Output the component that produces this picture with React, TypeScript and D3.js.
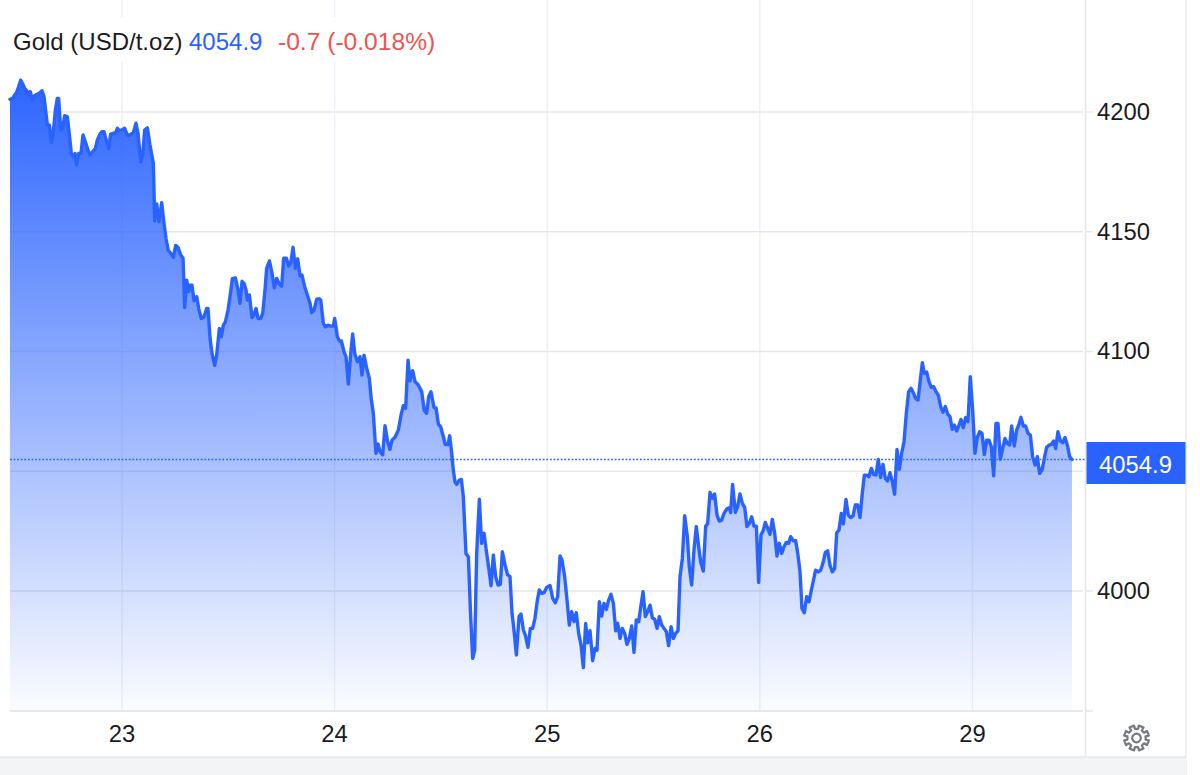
import React from "react";
import * as d3 from "d3";

const tickHours = [0, 24, 48, 72, 96];
const tickDays = ["23", "24", "25", "26", "29"];
const priceTicks = [4000, 4050, 4100, 4150, 4200];
const priceLabelTicks = [4000, 4100, 4150, 4200];
const lastPrice = 4054.9;

const hours1 = [-12.65,-12.34,-12.11,-11.89,-11.66,-11.44,-11.21,-10.99,-10.76,-10.57,-10.35,-10.12,-9.89,-9.63,-9.33,-9.03,-8.8,-8.58,-8.43,-8.2,-7.97,-7.75,-7.52,-7.3,-7.15,-6.92,-6.7,-6.47,-6.17,-5.94,-5.72,-5.49,-5.3,-5.12,-4.89,-4.63,-4.4,-4.14,-3.84,-3.61,-3.31,-3.01,-2.78,-2.48,-2.26,-2.03,-1.73,-1.5,-1.28,-0.98,-0.75,-0.52,-0.3,0,0.3,0.6,0.91,1.28,1.58,1.81,2.11,2.34,2.56,2.86,3.16,3.54,3.69,3.92,4.18,4.48,4.74,4.97,5.2,5.5,5.8,6.06,6.32,6.63,6.89,7.08,7.3,7.53,7.68,7.9,8.13,8.43,8.69,8.96,9.26,9.56,9.71,9.94,10.16,10.46,10.69,10.99,11.22,11.44,11.67,11.97,12.19,12.46,12.8,13.1,13.32,13.55,13.78,14,14.15,14.38,14.68,14.9,15.13,15.36,15.66,15.88,16.11,16.33,16.64,16.94,17.2,17.46,17.76,18.03,18.25,18.55,18.82,19.04,19.31,19.57,19.83,20.1,20.32,20.62,20.92,21.23,21.41,21.68,21.98,22.28,22.43,22.73,22.96,23.26,23.56,23.86,24.01,24.31,24.54,24.76,25.06,25.29,25.55,25.82,26.04,26.27,26.57,26.87];
const prices1 = [4205.3,4205.7,4207.1,4208.2,4210.6,4213.3,4211.7,4209.9,4208.9,4207.1,4208.5,4205,4206.7,4207.4,4207.8,4208.9,4206.4,4199.4,4194.6,4194.6,4187.3,4191.8,4200.8,4205.7,4205.7,4192.5,4193.2,4198.5,4198,4190.4,4182.7,4181.3,4182.7,4177.9,4182.7,4182.7,4190.4,4187.6,4184.1,4182,4183.4,4184.8,4188.3,4190.8,4191.8,4191.8,4187.6,4184.8,4190.8,4191.1,4191.1,4193.2,4192.2,4192.5,4193.2,4190.4,4190.4,4191.4,4195.3,4191.1,4179.2,4182,4192.5,4193.4,4186.2,4178.5,4154.6,4161.6,4154.2,4162.1,4153.5,4147.2,4142.4,4141,4139.3,4144.3,4143.5,4140.3,4138.9,4118.3,4129.8,4125,4127.7,4127.7,4121.2,4122.9,4117.3,4113.8,4114.5,4118,4118,4105.5,4099.2,4094.2,4098.5,4109.6,4106.2,4111,4112.4,4117.3,4122.9,4130.4,4130.7,4125.7,4120.1,4129.3,4128.4,4125.7,4121.5,4123.6,4114.2,4115.2,4118,4113.8,4113.8,4115.9,4124.3,4134.7,4137.8,4132.6,4126.6,4130.5,4128.2,4127.3,4139,4139,4135.7,4136.8,4143.5,4134.7,4138.7,4131.5,4131.9,4127,4123.6,4120.1,4116.2,4117.3,4121.8,4122,4121.5,4111.7,4110.3,4111,4110.6,4110.6,4113.8,4106.2,4104.4,4104.4,4099.9,4097.8,4086.4,4099.2,4107.3,4099.2,4095.7,4097.8];

const hours2 = [27.09,27.32,27.62,27.92,28.15,28.37,28.67,28.9,29.13,29.43,29.69,29.99,30.25,30.48,30.82,31.2,31.5,31.76,32.02,32.29,32.51,32.81,33.08,33.45,33.83,34.13,34.39,34.62,34.88,35.22,35.45,35.71,35.97,36.28,36.5,36.8,36.99,37.22,37.4,37.59,37.78,38.08,38.31,38.53,38.83,39.1,39.36,39.59,39.81,40.04,40.34,40.6,40.87,41.17,41.43,41.66,41.92,42.18,42.45,42.71,42.94,43.24,43.54,43.8,44.03,44.25,44.52,44.82,45.04,45.31,45.53,45.83,46.1,46.36,46.62,46.89,47.11,47.38,47.64,47.94,48.32,48.62,48.92,49.18,49.45,49.67,49.97,50.2,50.5,50.76,51.03,51.29,51.55,51.82,52.08,52.34,52.57,52.83,53.13,53.4,53.62,53.89,54.15,54.41,54.68,54.94,55.2,55.47,55.73,55.96,56.22,56.48,56.75,57.01,57.27,57.54,57.8,58.06,58.33,58.59,58.82,59.08,59.34,59.61,59.87,60.13,60.4,60.66,60.92,61.19,61.45,61.71,61.98,62.24,62.5,62.77,62.99,63.26];
const prices2 = [4090.2,4098.5,4093,4088.8,4079.7,4074.2,4057.5,4061.4,4058.2,4056.8,4069,4062.3,4059.1,4063,4064.2,4067.2,4073.5,4077.4,4076.3,4096.4,4087.8,4092,4087.4,4086,4083.2,4075.3,4074.2,4081.1,4083.2,4076.7,4076.5,4069.7,4068.6,4064.4,4061.1,4061.1,4064.8,4057.5,4050.5,4045.6,4044.5,4046.3,4046.6,4039.4,4015.7,4014.3,3989.3,3971.9,3975.3,4015.7,4038.3,4019.9,4024.1,4015.7,4008.8,4002.2,4015,4006,4002.5,4002.8,4016.4,4010.8,4006.7,4006,3990.7,3983.7,3973.3,3989.3,3990.4,3983.7,3981.6,3976.5,3984.4,3984.4,3988.6,3996.2,4000.4,3999,3999.3,4001.5,4002.3,3996.9,3995.1,3997.6,4014.6,4012.9,4006,3997.6,3985.8,3991.4,3987.2,3990.9,3982.3,3977.4,3968,3986.5,3978.4,3983.4,3970.9,3976,3975.3,3995.5,3989.5,3994.8,3992.3,3996.2,3998.6,3994.8,3983.4,3986.5,3980.2,3984.4,3982.3,3977.7,3980.2,3985.4,3974.4,3987.9,3987.2,3994.1,3999.7,3989.3,3991.4,3994.1,3988.8,3988.2,3984.4,3989.3,3985.8,3984.4,3983,3977.2,3985.1,3980.2,3982.3,3983.4,4006,4013.6];

const hours3 = [63.52,63.82,64.04,64.31,64.57,64.83,65.1,65.32,65.62,65.89,66.11,66.38,66.64,66.9,67.17,67.43,67.69,67.96,68.26,68.56,68.71,68.93,69.24,69.5,69.76,70.03,70.29,70.55,70.82,71.08,71.34,71.61,71.87,72.13,72.4,72.62,72.89,73.15,73.41,73.68,73.94,74.2,74.47,74.73,74.99,75.26,75.48,75.78,76.05,76.31,76.54,76.76,77.02,77.29,77.55,77.82,78.3,78.61,78.87,79.17,79.4,79.66,79.92,80.19,80.45,80.68,80.94,81.2,81.43,81.73,81.99,82.26,82.52,82.78,83.05,83.31,83.57,83.8,84.06,84.32,84.59,84.85,85.12,85.38,85.64,85.91,86.17,86.43,86.7,86.96,87.22,87.49,87.75,88.01,88.28,88.54,88.8,89.07,89.33,89.59,89.86,90.12,90.35,90.57,90.84,91.1,91.36,91.63,91.89,92.15,92.42,92.68,92.94,93.21,93.47,93.73,93.96,94.22,94.49,94.71,94.97,95.24,95.5,95.76,96.03,96.29,96.55,96.82,97.08,97.35,97.61,97.87,98.14,98.4,98.66,98.89,99.15,99.42,99.68,99.94,100.21,100.43,100.73,101,101.26,101.48,101.75,102.01,102.28,102.54,102.8,103.07,103.33,103.59,103.86,104.12,104.38,104.65,104.91,105.17,105.4,105.66,105.93,106.19,106.45,106.72,106.98,107.24];
const prices3 = [4031.4,4022.7,4010.1,4002.5,4017.1,4026.9,4018.5,4012.2,4008.3,4027.1,4028,4041.2,4038.7,4040.5,4031.7,4029.2,4029.6,4032.4,4034.2,4034.8,4032.7,4044.5,4032.8,4035.2,4040.5,4036.6,4034.9,4026.9,4028.2,4031,4027.1,4027.1,4003.6,4023.3,4025.4,4028.6,4026.1,4023.6,4029.9,4024.1,4014.6,4019.9,4015.7,4018.5,4020.3,4019.9,4022.7,4021,4021,4015,4008,3992.7,3990.9,3997.6,3995.5,4000.4,4008.7,4008,4008.7,4012.2,4016.1,4016.8,4010.8,4008,4009.4,4024.3,4025.4,4032.4,4028,4038.2,4031.7,4030.7,4031.3,4035.9,4035.9,4030.7,4040.7,4048.4,4048.4,4047.7,4051.2,4048.7,4048.4,4054.9,4047.4,4052.9,4047,4045.9,4049.4,4045.6,4040.4,4059.1,4050.8,4057.4,4062.3,4074.2,4083.2,4084.6,4082.8,4080.4,4079.7,4088.1,4095.3,4090.9,4091.4,4087.4,4085,4085.3,4083.2,4081.8,4077,4074.6,4077,4073.9,4072.8,4067.5,4069.3,4066.8,4069.3,4071.6,4068.2,4072.4,4070.7,4089.5,4075.5,4057.5,4064.1,4066.5,4065.8,4057,4063,4063,4060.2,4048.1,4070,4070,4055.1,4059.5,4063.7,4061.6,4060.9,4068.9,4060.5,4067.2,4069.7,4072.5,4068.9,4068.9,4065.8,4065.1,4056.1,4052.6,4056.1,4049.1,4050.5,4055.4,4060,4060.9,4061.2,4062.6,4059.5,4066.5,4062.7,4061.9,4064.1,4060.9,4056.1,4054.9];

const hours = [...hours1, ...hours2, ...hours3];
const prices = [...prices1, ...prices2, ...prices3];
const points = hours.map((h, i) => ({ h, p: prices[i] }));

const font = "Helvetica, 'Liberation Sans', Arial, sans-serif";
const blue = "#2962ff";
const labelSize = 23.8;

export default function App() {
  const x = d3.scaleLinear().domain([0, 96]).range([122, 972.4]);
  const y = d3.scaleLinear().domain([4000, 4200]).range([591, 112]);
  const floor = 710.5;
  const panelX = 1085.5;
  const line = d3.line<{ h: number; p: number }>().x((d) => x(d.h)).y((d) => y(d.p));
  const area = d3.area<{ h: number; p: number }>().x((d) => x(d.h)).y0(floor).y1((d) => y(d.p));
  return (
    <svg width={1200} height={775} style={{ position: "absolute", left: 0, top: 0, background: "#fff" }}>
      <defs>
        <linearGradient id="fade" gradientUnits="userSpaceOnUse" x1={0} x2={0} y1={y(4213)} y2={floor}>
          <stop offset="0" stopColor={blue} stopOpacity={0.98} />
          <stop offset="1" stopColor={blue} stopOpacity={0.02} />
        </linearGradient>
      </defs>
      {tickHours.map((h) => (
        <line key={h} x1={x(h)} x2={x(h)} y1={0} y2={710} stroke="#eef0f8" strokeWidth={1.4} />
      ))}
      {priceTicks.map((p) => (
        <line key={p} x1={10} x2={1083} y1={y(p)} y2={y(p)} stroke="#e6e7eb" strokeWidth={1.7} />
      ))}
      {priceLabelTicks.map((p) => (
        <line key={p} x1={1085} x2={1093} y1={y(p)} y2={y(p)} stroke="#e6e7eb" strokeWidth={1.4} />
      ))}
      <path d={area(points) ?? ""} fill="url(#fade)" />
      <line x1={10} x2={1083} y1={floor + 0.5} y2={floor + 0.5} stroke="#e6e7eb" strokeWidth={1.8} />
      <line x1={1085} x2={1093} y1={floor + 0.5} y2={floor + 0.5} stroke="#e6e7eb" strokeWidth={1.6} />
      <line x1={x(hours[0])} x2={1086} y1={y(lastPrice)} y2={y(lastPrice)} stroke={blue} strokeWidth={1.7} strokeDasharray="1.8 1.8" />
      <path d={line(points) ?? ""} fill="none" stroke={blue} strokeWidth={3.4} strokeLinejoin="round" strokeLinecap="round" />
      <line x1={panelX} x2={panelX} y1={0} y2={757} stroke="#e6e7eb" strokeWidth={1.6} />
      <line x1={1186} x2={1186} y1={0} y2={775} stroke="#e9eaee" strokeWidth={1.4} />
      <rect x={0} y={757} width={1186} height={18} fill="#f3f4f6" />
      <line x1={0} x2={1186} y1={757} y2={757} stroke="#e6e7eb" strokeWidth={1.6} />
      {priceLabelTicks.map((p) => (
        <text key={p} x={1123.5} y={y(p) - 0.8} dy="0.36em" textAnchor="middle" fontFamily={font} fontSize={labelSize} fill="#1b1b1f">{p}</text>
      ))}
      {tickHours.map((h, i) => (
        <text key={h} x={x(h)} y={733.5} dy="0.36em" textAnchor="middle" fontFamily={font} fontSize={labelSize} fill="#1b1b1f">{tickDays[i]}</text>
      ))}
      <rect x={1086.5} y={442} width={99} height={42} fill={blue} />
      <text x={1135.5} y={464} dy="0.36em" textAnchor="middle" fontFamily={font} fontSize={labelSize} fill="#fff">{lastPrice.toFixed(1)}</text>
      <rect x={0} y={17} width={445} height={45} fill="#fff" />
      <text x={13} y={41.5} dy="0.36em" fontFamily={font} fontSize={24} fill="#1b1b1f">Gold (USD/t.oz)</text>
      <text x={189} y={41.5} dy="0.36em" fontFamily={font} fontSize={24} fill={blue}>{lastPrice.toFixed(1)}</text>
      <text x={278} y={41.5} dy="0.36em" fontFamily={font} fontSize={24.6} fill="#ef5350">-0.7 (-0.018%)</text>
      <g transform="translate(1136.5 738)" fill="none" stroke="#777a80" strokeWidth={2.2} strokeLinejoin="round">
        <circle r={4.3} />
        <path d={d3.range(8).map((i) => {
          const a = (i * Math.PI) / 4 + Math.PI / 8;
          const pt = (r: number, da: number) => `${(r * Math.sin(a + da)).toFixed(2)} ${(-r * Math.cos(a + da)).toFixed(2)}`;
          return `${i ? "L" : "M"}${pt(9.2, -0.22)}L${pt(12.6, -0.2)}L${pt(12.6, 0.2)}L${pt(9.2, 0.22)}`;
        }).join("") + "Z"} />
      </g>
    </svg>
  );
}
